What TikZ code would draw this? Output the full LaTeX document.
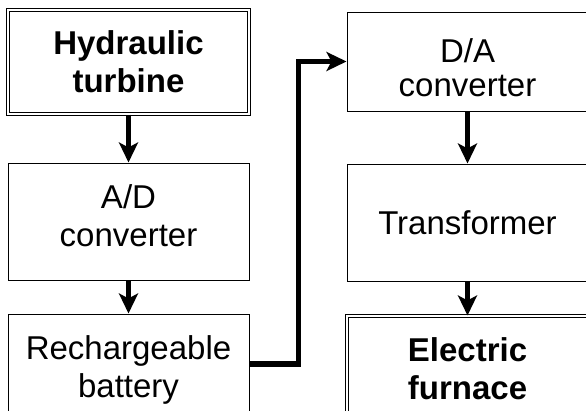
\documentclass[tikz,border=0pt]{standalone}
\usepackage{fontspec}
\setmainfont{Liberation Sans}
\usetikzlibrary{arrows.meta, positioning}
\newcommand{\lowend}{\rule[-11pt]{0pt}{11pt}}
\newcommand{\hightop}{\rule{0pt}{37pt}}
\tikzset{
  blk/.style={draw, line width=1pt, align=center, inner sep=0pt,
              font=\fontsize{33}{38}\selectfont, minimum width=241pt},
  endblk/.style={blk, double, double distance=1.5pt,
              font=\fontsize{33}{38}\selectfont\bfseries},
  arr/.style={-{Stealth[length=20pt,width=19pt,inset=5pt]}, line width=5.5pt}
}
\begin{document}
\begin{tikzpicture}[x=1pt,y=-1pt]
  \useasboundingbox (0,0) rectangle (586,410);
  \clip (0,0) rectangle (586,410);
  \node[endblk,minimum height=104pt] (turb) at (128.5,62) {Hydraulic\\turbine};
  \node[blk,minimum height=117pt,below=48pt of turb] (ad) {A/D\\converter\lowend};
  \node[blk,minimum height=117pt,below=33pt of ad] (bat) {Rechargeable\\battery\lowend};
  \node[blk,minimum height=99pt,font=\fontsize{33}{34}\selectfont] (da) at (467.5,61.5) {\hightop D/A\\converter};
  \node[blk,minimum height=117pt,below=52pt of da] (tr) {Transformer};
  \node[endblk,minimum height=117pt,below=34pt of tr] (fur) {Electric\\furnace\lowend};
  \draw[arr](turb)--(ad); \draw[arr](ad)--(bat);
  \draw[arr](da)--(tr); \draw[arr](tr)--(fur);
  \draw[arr]([yshift=8.5pt]bat.east)--++(49,0)|-(da.west);
\end{tikzpicture}
\end{document}
